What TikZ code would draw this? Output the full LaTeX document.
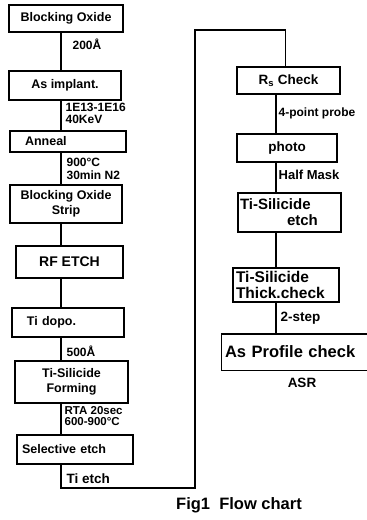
\documentclass[tikz,border=0pt]{standalone}
\usepackage{fontspec}
\setmainfont{Liberation Sans}
\usetikzlibrary{positioning}
\newcommand{\boxfont}[2]{\fontsize{#1}{#2}\selectfont\bfseries}

\begin{document}
\begin{tikzpicture}[x=1pt,y=-1pt,line width=1.3pt,
    box/.style={draw,inner sep=2pt,align=center,font=\boxfont{12.5}{15}},
    note/.style={anchor=west,inner sep=1pt,align=left,font=\boxfont{12}{12.5}}]
  \useasboundingbox (0,0) rectangle (367,520);
  % left column
  \coordinate (lx) at (61,0);
  \node[box,minimum width=114pt,minimum height=27pt] (blk) at (66,18.5) {Blocking Oxide};
  \node[box,minimum width=112pt,minimum height=29pt] (impl) at (65,85.5) {As implant.};
  \node[box,align=left,inner xsep=15pt,text width=86pt,minimum height=21pt] (ann) at (68,141.5) {Anneal};
  \node[box,minimum width=112pt,minimum height=38pt] (strip) at (66,204) {Blocking Oxide\\Strip};
  \node[box,font=\boxfont{14}{15},minimum width=107pt,minimum height=32pt] (rf) at (69.5,262) {RF ETCH};
  \node[box,align=left,inner xsep=15pt,text width=82pt,minimum height=29pt] (dopo) at (68,322.5) {Ti dopo.};
  \node[box,minimum width=113pt,minimum height=42pt] (form) at (71.5,382) {Ti-Silicide\\Forming};
  \node[box,align=left,inner xsep=5pt,text width=106pt,minimum height=29pt] (sel) at (75,449.5) {Selective etch};

  \draw (blk.south -| lx) -- (impl.north -| lx);
  \draw (impl.south -| lx) -- (ann.north -| lx);
  \draw (ann.south -| lx) -- (strip.north -| lx);
  \draw (strip.south -| lx) -- (rf.north -| lx);
  \draw (rf.south -| lx) -- (dopo.north -| lx);
  \draw (dopo.south -| lx) -- (form.north -| lx);
  \draw (form.south -| lx) -- (sel.north -| lx);

  \node[note] (thk1) at (71,44) {200Å};
  \node[note,font=\boxfont{12}{12}] (dose) at (64,113) {1E13-1E16\\40KeV};
  \node[note,font=\boxfont{12}{13}] (anncond) at (65,169) {900°C\\30min N2};
  \node[note] (thk2) at (65,351) {500Å};
  \node[note,font=\boxfont{11.5}{10.5}] (rta) at (63,416) {RTA 20sec\\600-900°C};
  \node[note,font=\boxfont{13.5}{14}] (tietch) at (65,479) {Ti etch};

  % loop over to the right column
  \coordinate (lowTurn) at (195,488);
  \coordinate (topTurn) at (195,30);

  % right column
  \coordinate (rx) at (276,0);
  \node[box,font=\boxfont{13.5}{15},minimum width=103pt,minimum height=27pt] (rs) at (288.5,80.5) {R\textsubscript{s} Check};
  \node[box,font=\boxfont{13.5}{15},minimum width=100pt,minimum height=28pt] (photo) at (287,148) {photo};
  \node[box,font=\boxfont{15}{16},align=left,inner xsep=2pt,text width=99pt,minimum height=39pt] (tiet) at (289.5,212.5) {Ti-Silicide\\\hspace*{47pt}etch};
  \node[box,font=\boxfont{15.5}{16},align=left,inner xsep=3pt,text width=100pt,minimum height=34pt] (thick) at (286,285) {Ti-Silicide\\Thick.check};
  \node[inner xsep=3pt,align=left,text width=139pt,minimum height=35pt,font=\boxfont{16.5}{17}] (prof) at (294.5,352) {As Profile check};
  \draw (prof.north east) -- (prof.north west) -- (prof.south west) -- (prof.south east);

  \draw (sel.south -| lx) |- (lowTurn) -- (topTurn) -| ([xshift=-3pt]rs.north);
  \draw (rs.south -| rx) -- (photo.north -| rx);
  \draw (photo.south -| rx) -- (tiet.north -| rx);
  \draw (tiet.south -| rx) -- (thick.north -| rx);
  \draw (thick.south -| rx) -- (prof.north -| rx);

  \node[note] (probe) at (277,113) {4-point probe};
  \node[note,font=\boxfont{13}{14}] (mask) at (277,175) {Half Mask};
  \node[note,font=\boxfont{13.5}{14}] (step) at (279,318) {2-step};
  \node[font=\boxfont{13.5}{14},inner sep=1pt] (asr) at (302,383) {ASR};

  \node[font=\boxfont{16.5}{17},inner sep=1pt] (caption) at (239,505) {Fig1\ \ Flow chart};
\end{tikzpicture}
\end{document}
